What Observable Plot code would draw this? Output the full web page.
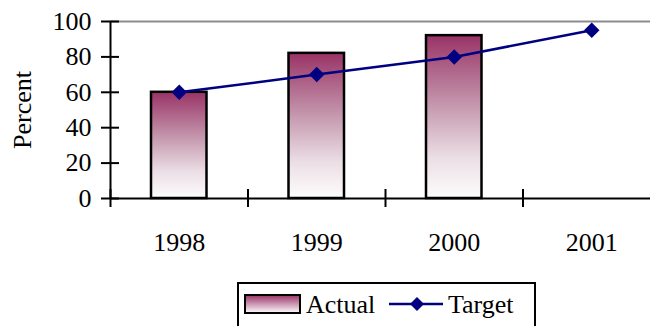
<!DOCTYPE html>
<html>
<head>
<meta charset="utf-8">
<script src="https://cdn.jsdelivr.net/npm/d3@7"></script>
<script src="https://cdn.jsdelivr.net/npm/@observablehq/plot@0.6"></script>
<style>
  html, body { margin: 0; padding: 0; background: #fff; }
  #wrap { width: 650px; height: 326px; overflow: hidden; position: relative; font-family: "Liberation Serif", "Times New Roman", serif; }
  #legend { display: block; }
  svg text { font-family: "Liberation Serif", "Times New Roman", serif; }
</style>
</head>
<body>
<div id="wrap"></div>
<script>
const years = [1998, 1999, 2000, 2001];
const actualYears = [1998, 1999, 2000];
const actualValues = [60, 82, 92];
const targetValues = [60, 70, 80, 95];
const yTicks = [0, 20, 40, 60, 80, 100];
const seriesNames = ["Actual", "Target"];

const actualData = actualYears.map((year, i) => ({year, value: actualValues[i]}));
const targetData = years.map((year, i) => ({year, value: targetValues[i]}));
const boundaries = years.map(y => y - 0.5);

const FONT = "Liberation Serif";
const FS = 26;

const plot = Plot.plot({
  width: 650,
  height: 270,
  marginLeft: 110,
  marginRight: 0,
  marginTop: 21,
  marginBottom: 72,
  style: {fontFamily: FONT, fontSize: FS + "px", color: "#000", background: "transparent", overflow: "visible"},
  x: {type: "linear", domain: [years[0] - 0.5, years[years.length - 1] + 0.5], range: [110, 660]},
  y: {domain: [0, 100]},
  marks: [
    Plot.gridY([100], {stroke: "#8c8c8c", strokeOpacity: 1, strokeWidth: 2}),
    Plot.rectY(actualData, {x1: d => d.year - 0.5, x2: d => d.year + 0.5, y: "value", insetLeft: 41, insetRight: 41, fill: "url(#barGrad)", stroke: "#000", strokeWidth: 2.5}),
    Plot.ruleY([0], {stroke: "#000", strokeWidth: 2}),
    Plot.ruleX([years[0] - 0.5], {stroke: "#000", strokeWidth: 2}),
    Plot.axisY(yTicks, {tickSize: 18, dx: 9, tickFormat: () => "", label: null, strokeWidth: 2}),
    Plot.axisY(yTicks, {tickSize: 0, tickPadding: 19, label: "Percent", labelAnchor: "center", labelOffset: 98, labelArrow: "none", tickFormat: d => String(d), fontFamily: FONT, fontSize: FS, fontVariant: "normal"}),
    Plot.axisX(boundaries, {tickSize: 18, dy: -9, tickFormat: () => "", label: null, strokeWidth: 2}),
    Plot.axisX(years, {tickSize: 0, tickPadding: 34, tickFormat: d => String(d), label: null, fontFamily: FONT, fontSize: FS, fontVariant: "normal"}),
    Plot.line(targetData, {x: "year", y: "value", stroke: "#000080", strokeWidth: 2.5}),
    Plot.dot(targetData, {x: "year", y: "value", symbol: "diamond2", r: 7, fill: "#000080", stroke: "none"})
  ]
});

d3.select(plot).insert("defs", ":first-child").html(
  `<linearGradient id="barGrad" x1="0" y1="0" x2="0" y2="1">
     <stop offset="0" stop-color="#993366"/>
     <stop offset="0.45" stop-color="#c79cb1"/>
     <stop offset="0.75" stop-color="#ebdee4"/>
     <stop offset="1" stop-color="#fdfcfd"/>
   </linearGradient>`
);

const wrap = document.getElementById("wrap");
wrap.appendChild(plot);

// Legend (below the plot SVG)
const leg = d3.select(wrap).append("svg")
  .attr("id", "legend")
  .attr("width", 650).attr("height", 56)
  .attr("font-family", FONT)
  .attr("font-size", FS);
const lg = leg.append("defs").append("linearGradient").attr("id", "legGrad")
  .attr("x1", 0).attr("y1", 0).attr("x2", 0).attr("y2", 1);
lg.append("stop").attr("offset", 0).attr("stop-color", "#993366");
lg.append("stop").attr("offset", 1).attr("stop-color", "#fdfcfd");
leg.append("rect").attr("x", 238).attr("y", 13).attr("width", 297).attr("height", 60)
  .attr("fill", "#fff").attr("stroke", "#000").attr("stroke-width", 2);
leg.append("rect").attr("x", 245).attr("y", 25).attr("width", 55).attr("height", 18)
  .attr("fill", "url(#legGrad)").attr("stroke", "#000").attr("stroke-width", 2);
leg.append("text").attr("x", 306).attr("y", 43).text(seriesNames[0]);
leg.append("line").attr("x1", 389).attr("x2", 443).attr("y1", 34).attr("y2", 34)
  .attr("stroke", "#000080").attr("stroke-width", 2.5);
leg.append("path").attr("d", "M417,27L424,34L417,41L410,34Z").attr("fill", "#000080");
leg.append("text").attr("x", 448).attr("y", 43).text(seriesNames[1]);
</script>
</body>
</html>
